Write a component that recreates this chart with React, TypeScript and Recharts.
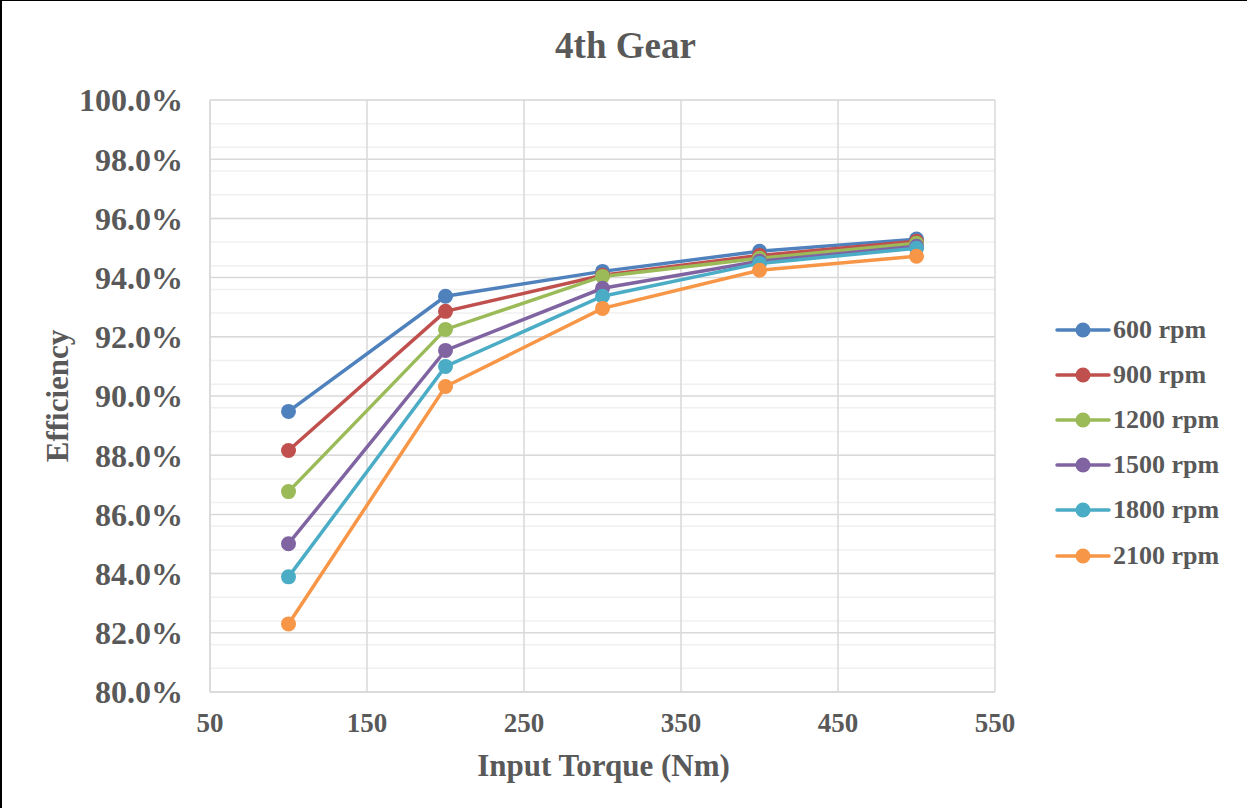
import { LineChart, Line, XAxis, YAxis, CartesianGrid } from 'recharts';

const torque = [100, 200, 300, 400, 500];
const rpm600 = [89.48, 93.37, 94.21, 94.89, 95.3];
const rpm900 = [88.16, 92.86, 94.08, 94.75, 95.23];
const rpm1200 = [86.77, 92.25, 94.04, 94.65, 95.16];
const rpm1500 = [85.01, 91.54, 93.64, 94.55, 95.06];
const rpm1800 = [83.89, 91.0, 93.37, 94.48, 94.99];
const rpm2100 = [82.3, 90.32, 92.96, 94.25, 94.72];

const seriesNames = ['600 rpm', '900 rpm', '1200 rpm', '1500 rpm', '1800 rpm', '2100 rpm'];
const seriesValues = [rpm600, rpm900, rpm1200, rpm1500, rpm1800, rpm2100];
const colors = ['#4F81BD', '#C0504D', '#9BBB59', '#8064A2', '#4BACC6', '#F79646'];

const xTicks = [50, 150, 250, 350, 450, 550];
const yTicks = [80, 82, 84, 86, 88, 90, 92, 94, 96, 98, 100];
const yMinor = Array.from({ length: 51 }, (_, i) => 80 + i * 0.4);

const data = torque.map((t, i) => {
  const row: Record<string, number> = { torque: t };
  seriesNames.forEach((name, s) => {
    row[name] = seriesValues[s][i];
  });
  return row;
});

const font = '"Liberation Serif", "Times New Roman", serif';
const textColor = '#595959';

function LegendList() {
  return (
    <div style={{ fontFamily: font, fontWeight: 'bold', fontSize: 26, color: textColor }}>
      {seriesNames.map((name, i) => (
        <div key={name} style={{ display: 'flex', alignItems: 'center', height: 45.2 }}>
          <svg width={56} height={20} style={{ marginRight: 2 }}>
            <line x1={2} y1={10} x2={54} y2={10} stroke={colors[i]} strokeWidth={3.5} strokeLinecap="round" />
            <circle cx={28} cy={10} r={7.5} fill={colors[i]} />
          </svg>
          <span>{name}</span>
        </div>
      ))}
    </div>
  );
}

export default function App() {
  return (
    <div
      style={{
        position: 'absolute',
        left: 0,
        top: 0,
        width: 1247,
        height: 808,
        boxSizing: 'border-box',
        borderTop: '1px solid #000',
        borderLeft: '2px solid #000',
        background: '#fff',
      }}
    >
      <div
        style={{
          position: 'absolute',
          left: 0,
          top: 0,
          width: 1247,
          textAlign: 'center',
          fontFamily: font,
          fontWeight: 'bold',
          fontSize: 37,
          color: textColor,
          lineHeight: '90px',
        }}
      >
        4th Gear
      </div>
      <div
        style={{
          position: 'absolute',
          left: 0,
          top: 742,
          width: 1203,
          textAlign: 'center',
          fontFamily: font,
          fontWeight: 'bold',
          fontSize: 31,
          color: textColor,
          lineHeight: '46px',
        }}
      >
        Input Torque (Nm)
      </div>
      <div
        style={{
          position: 'absolute',
          left: 56,
          top: 395,
          transform: 'translate(-50%, -50%) rotate(-90deg)',
          fontFamily: font,
          fontWeight: 'bold',
          fontSize: 31,
          color: textColor,
          whiteSpace: 'nowrap',
        }}
      >
        Efficiency
      </div>
      <div style={{ position: 'absolute', left: 1053, top: 306 }}>
        <LegendList />
      </div>
      <div style={{ position: 'absolute', left: 0, top: 0 }}>
        <LineChart width={1245} height={807} data={data} margin={{ top: 99, right: 252, bottom: 0, left: 0 }}>
          <CartesianGrid horizontalValues={yMinor} vertical={false} stroke="#f0f0f0" strokeWidth={1.5} />
          <CartesianGrid horizontalValues={yTicks} verticalValues={xTicks} stroke="#d9d9d9" strokeWidth={1.5} />
          <XAxis
            dataKey="torque"
            type="number"
            domain={[50, 550]}
            ticks={xTicks}
            height={116}
            tickSize={0}
            tickMargin={21}
            axisLine={{ stroke: '#d9d9d9', strokeWidth: 1.5 }}
            tickLine={false}
            tick={{ fontFamily: font, fontWeight: 'bold', fontSize: 27, fill: textColor }}
          />
          <YAxis
            type="number"
            domain={[80, 100]}
            ticks={yTicks}
            width={208}
            tickSize={0}
            tickMargin={27}
            axisLine={{ stroke: '#d9d9d9', strokeWidth: 1.5 }}
            tickLine={false}
            tickFormatter={(v: number) => `${v.toFixed(1)}%`}
            tick={{ fontFamily: font, fontWeight: 'bold', fontSize: 32, fill: textColor }}
          />
          {seriesNames.map((name, i) => (
            <Line
              key={name}
              dataKey={name}
              stroke={colors[i]}
              strokeWidth={3.5}
              dot={{ r: 7.5, fill: colors[i], stroke: colors[i], strokeWidth: 0 }}
              activeDot={false}
              isAnimationActive={false}
            />
          ))}
        </LineChart>
      </div>
    </div>
  );
}
